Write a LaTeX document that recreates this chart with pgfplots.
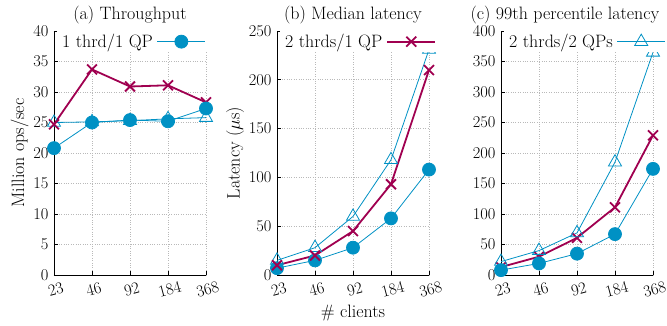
\RequirePackage{fix-cm}
\documentclass[border=0pt]{standalone}
\usepackage{fontspec}
\usepackage{pgfplots}
\pgfplotsset{compat=1.18}
\definecolor{cblue}{RGB}{0,145,196}
\definecolor{cred}{RGB}{160,0,80}
\newcommand{\fs}{\fontsize{16.5}{19}\selectfont}
\newcommand{\fl}{\fontsize{18}{21}\selectfont}
\pgfplotsset{
 panel/.style={
  scale only axis, width=152bp, height=244bp,
  xmin=0,xmax=4, xtick={0,1,2,3,4}, xticklabels={23,46,92,184,368},
  /pgf/number format/assume math mode=true,
  axis x line*=bottom, axis y line*=left, axis line style={-, line width=0.6bp},
  grid=major, major grid style={gray!55, dotted, line width=0.7bp},
  tick align=inside, major tick length=4bp, tick style={black, line width=0.6bp},
  xticklabel style={rotate=15, anchor=north, yshift=-5bp, xshift=-2bp},
  yticklabel style={xshift=-2bp},
  font=\fs, ticklabel style={font=\fs}, label style={font=\fl}, title style={font=\fl, yshift=-2bp},
  ylabel style={yshift=-2bp},
  legend style={at={(0.02,1)}, anchor=north west, draw=none, fill=white, inner sep=1bp, font=\fl, legend plot pos=right, legend cell align=left,
    nodes={inner xsep=4bp}},
  legend image code/.code={\draw[mark repeat=2,mark phase=2,##1] plot coordinates {(0bp,0bp)(24bp,0bp)(48bp,0bp)};},
 },
 s1/.style={cblue, line width=0.8bp, mark=*, mark size=6.5bp, mark options={fill=cblue, solid}},
 s2/.style={cred, line width=1.8bp, mark=x, mark size=7bp, mark options={solid, line width=1.8bp}},
 s3/.style={cblue, line width=0.8bp, mark=triangle, mark size=7.5bp, mark options={solid, line width=0.8bp}},
}
\begin{document}
\begin{tikzpicture}
\path[use as bounding box] (-54bp,-51bp) rectangle (613bp,275bp);
% (a)
\begin{axis}[panel, at={(0bp,0bp)}, ymin=0, ymax=40, ytick={0,5,...,40},
  title={(a) Throughput}, ylabel={Million ops/sec}]
\addplot[s3, forget plot] coordinates {(0,25.0) (1,25.1) (2,25.3) (3,25.6) (4,25.8)};
\addplot[s2, forget plot] coordinates {(0,24.7) (1,33.7) (2,30.9) (3,31.1) (4,28.3)};
\addplot[s1] coordinates {(0,20.8) (1,25.0) (2,25.4) (3,25.2) (4,27.3)};
\addlegendentry{1 thrd/1 QP}
\end{axis}
% (b)
\begin{axis}[panel, at={(223bp,0bp)}, ymin=0, ymax=250, ytick={0,50,...,250},
  title={(b) Median latency}, ylabel={Latency ($\mu$s)}, xlabel={\# clients}]
\addplot[s3, forget plot] coordinates {(0,15) (1,28) (2,60) (3,118) (4,231)};
\addplot[s1, forget plot] coordinates {(0,7) (1,15) (2,28) (3,58) (4,108)};
\addplot[s2] coordinates {(0,10) (1,20) (2,45) (3,93) (4,210)};
\addlegendentry{2 thrds/1 QP}
\end{axis}
% (c)
\begin{axis}[panel, at={(447bp,0bp)}, ymin=0, ymax=400, ytick={0,50,...,400},
  title={(c) 99th percentile latency}, title style={xshift=-12bp}]
\addplot[s2, forget plot] coordinates {(0,13) (1,30) (2,61) (3,111) (4,229)};
\addplot[s1, forget plot] coordinates {(0,8) (1,19) (2,35) (3,67) (4,174)};
\addplot[s3] coordinates {(0,22) (1,40) (2,69) (3,185) (4,365)};
\addlegendentry{2 thrds/2 QPs}
\end{axis}
\end{tikzpicture}
\end{document}
